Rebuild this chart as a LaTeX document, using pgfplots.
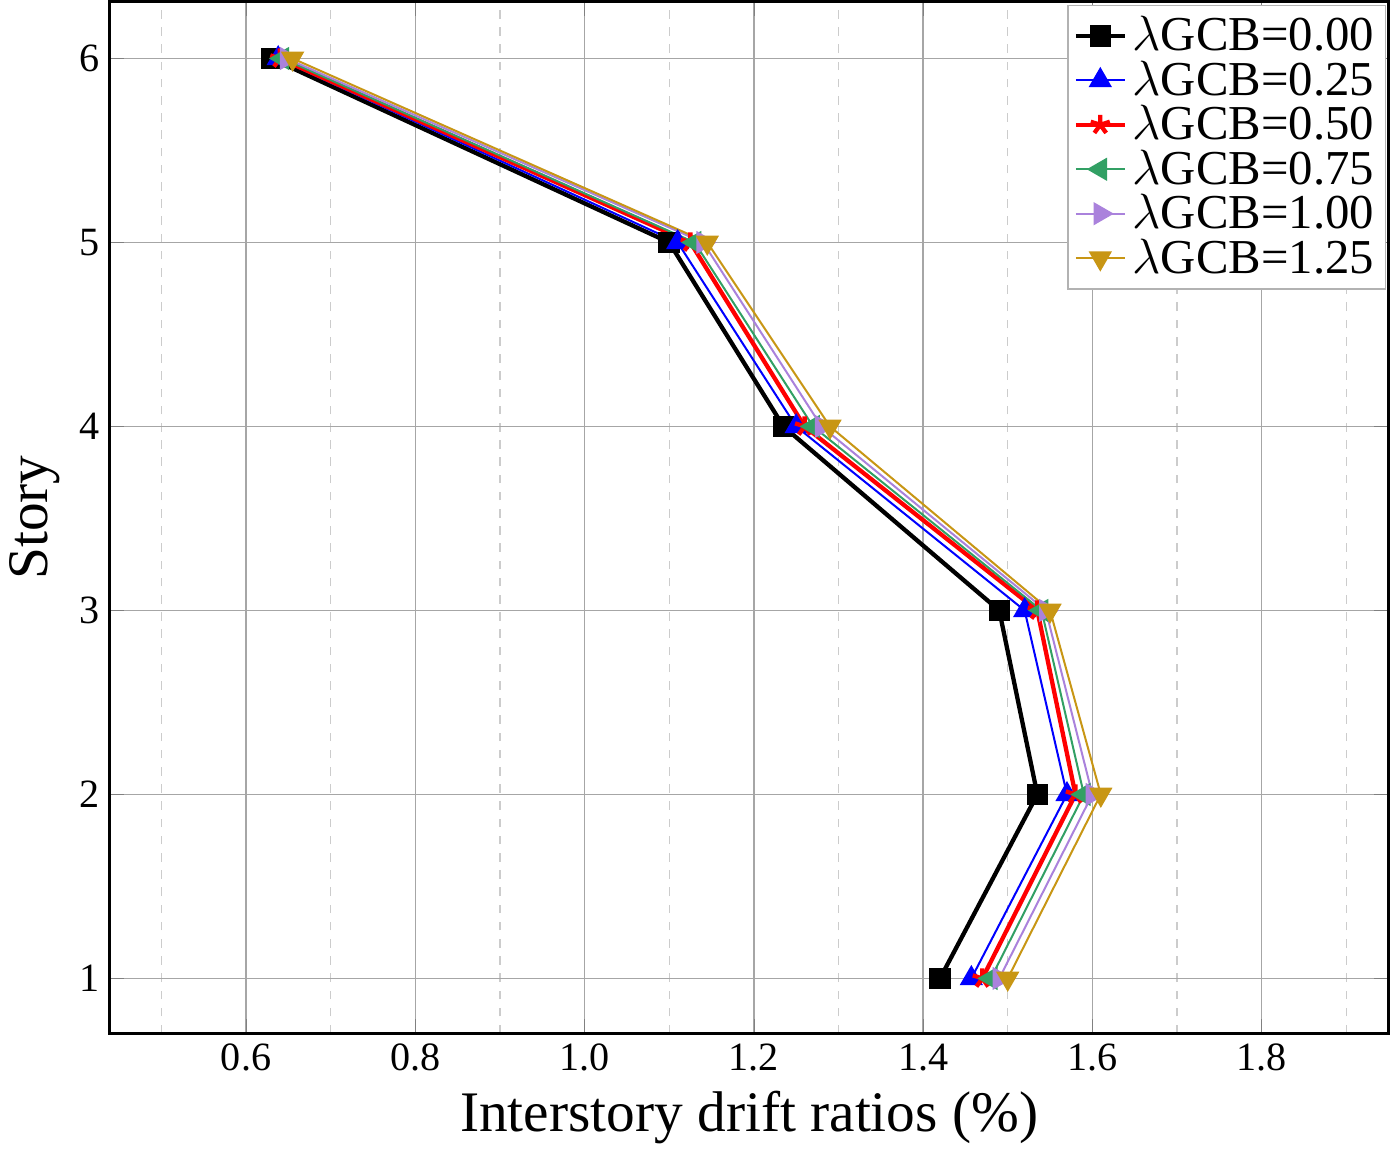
\documentclass[border=0pt]{standalone}
\usepackage{pgfplots}
\pgfplotsset{compat=1.18}
\usepackage{fontspec}
\setmainfont{Liberation Serif}
\begin{document}
\begin{tikzpicture}
\begin{axis}[
 scale only axis, width=446pt, height=360pt,
 xmin=0.439, xmax=1.95, ymin=0.70, ymax=6.31,
 xtick={0.6,0.8,...,1.81}, minor xtick={0.5,0.7,...,1.91},
 ytick={1,...,6},
 xticklabel style={/pgf/number format/.cd,fixed,fixed zerofill,precision=1},
 /pgf/number format/assume math mode=true,
 tick label style={font=\fontsize{14}{16}\selectfont},
 xlabel={Interstory drift ratios (\%)}, ylabel={Story},
 label style={font=\fontsize{20}{24}\selectfont},
 grid=both, major grid style={gray!70,line width=0.5pt},
 minor grid style={gray!40,dashed,line width=0.4pt},
 tick align=inside, axis line style={line width=1pt},
 major tick length=5pt, minor tick length=0pt,
 legend style={at={(0.998,0.997)},anchor=north east,font=\fontsize{17}{20}\selectfont,draw=gray!60,row sep=-2pt,inner sep=2pt},
 legend cell align=left,
]
\addplot[black,line width=1.5pt,mark=square*,mark size=3pt] coordinates {(1.42,1)(1.535,2)(1.49,3)(1.235,4)(1.10,5)(0.63,6)};
\addlegendentry{$\lambda$GCB=0.00}
\addplot[blue,line width=0.7pt,mark=triangle*,mark size=4pt] coordinates {(1.457,1)(1.57,2)(1.52,3)(1.25,4)(1.11,5)(0.638,6)};
\addlegendentry{$\lambda$GCB=0.25}
\addplot[red,line width=1.5pt,mark=star,mark size=3.5pt,mark options={fill=red}] coordinates {(1.47,1)(1.58,2)(1.535,3)(1.26,4)(1.125,5)(0.64,6)};
\addlegendentry{$\lambda$GCB=0.50}
\addplot[color={rgb,255:red,50;green,160;blue,100},line width=0.7pt,mark=triangle*,mark options={rotate=90},mark size=4pt] coordinates {(1.48,1)(1.59,2)(1.54,3)(1.27,4)(1.13,5)(0.643,6)};
\addlegendentry{$\lambda$GCB=0.75}
\addplot[color={rgb,255:red,170;green,130;blue,220},line width=0.7pt,mark=triangle*,mark options={rotate=-90},mark size=4pt] coordinates {(1.49,1)(1.60,2)(1.545,3)(1.28,4)(1.14,5)(0.648,6)};
\addlegendentry{$\lambda$GCB=1.00}
\addplot[color={rgb,255:red,200;green,150;blue,20},line width=0.7pt,mark=triangle*,mark options={rotate=180},mark size=4pt] coordinates {(1.50,1)(1.61,2)(1.55,3)(1.29,4)(1.145,5)(0.655,6)};
\addlegendentry{$\lambda$GCB=1.25}
\end{axis}
\end{tikzpicture}
\end{document}
